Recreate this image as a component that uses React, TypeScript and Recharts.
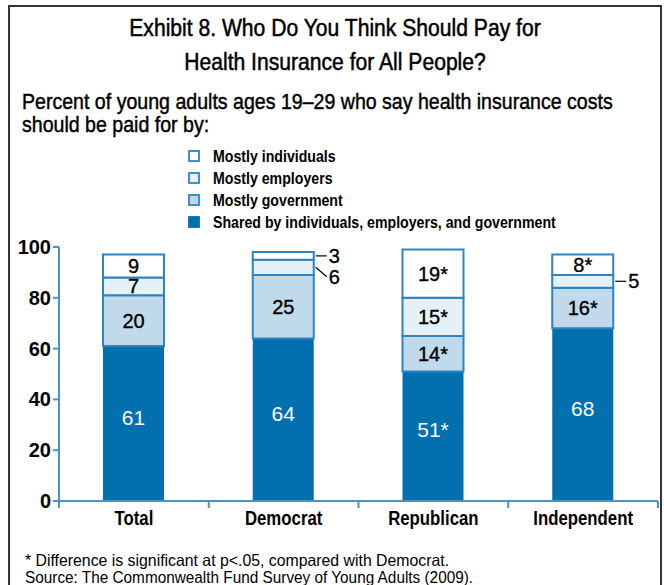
import React from "react";
import { BarChart, Bar, XAxis, YAxis, LabelList, Legend } from "recharts";

const categories = ["Total", "Democrat", "Republican", "Independent"];
const sharedVals = [61, 64, 51, 68];
const governmentVals = [20, 25, 14, 16];
const employersVals = [7, 6, 15, 5];
const individualsVals = [9, 3, 19, 8];
const sharedSig = [false, false, true, false];
const governmentSig = [false, false, true, true];
const employersSig = [false, false, true, false];
const individualsSig = [false, false, true, true];
const yTicks = [0, 20, 40, 60, 80, 100];

const titleLines = ["Exhibit 8. Who Do You Think Should Pay for", "Health Insurance for All People?"];
const subtitleLines = ["Percent of young adults ages 19–29 who say health insurance costs", "should be paid for by:"];
const footLines = [
  "* Difference is significant at p<.05, compared with Democrat.",
  "Source: The Commonwealth Fund Survey of Young Adults (2009).",
];

const seriesNames: Record<string, string> = {
  shared: "Shared by individuals, employers, and government",
  government: "Mostly government",
  employers: "Mostly employers",
  individuals: "Mostly individuals",
};

const data = categories.map((c, i) => ({
  name: c,
  shared: sharedVals[i],
  government: governmentVals[i],
  employers: employersVals[i],
  individuals: individualsVals[i],
}));

const sigMap: Record<string, boolean[]> = {
  shared: sharedSig,
  government: governmentSig,
  employers: employersSig,
  individuals: individualsSig,
};
const order = ["shared", "government", "employers", "individuals"];

const DARK = "#0270AE";
const MID = "#C0DAEB";
const LIGHT = "#E5F0F7";
const EDGE = "#2E84C2";
const AXIS = "#4A94CC";
const FONT = "'Liberation Sans', Arial, sans-serif";

const W = 664;
const H = 585;
const M = { top: 247, right: 6, bottom: 54, left: 9 };
const YW = 50;
const XH = 30;
const PLOT_W = W - M.left - M.right - YW;
const BAND = PLOT_W / categories.length;

const CText = ({ x, y, s = 1, anchor = "start", children, ...rest }: any) => (
  <text transform={`translate(${x},${y}) scale(${s},1)`} textAnchor={anchor} fontFamily={FONT} {...rest}>
    {children}
  </text>
);

const makeLabel = (key: string) => (props: any) => {
  const { x, y, width, height, index, value } = props;
  const text = `${value}${sigMap[key][index] ? "*" : ""}`;
  const cx = x + width / 2;
  const cy = y + height / 2;
  const isDark = key === "shared";
  const heavy = isDark ? {} : { stroke: "#000", strokeWidth: 0.35 };
  if (value < 7) {
    const idx = order.indexOf(key);
    const nextKey = order[idx + 1];
    const nextSmall = nextKey ? (data[index] as any)[nextKey] < 7 : false;
    const dy = nextSmall ? 9.5 : 0;
    const x0 = x + width + 2;
    return (
      <g>
        <line x1={x0} y1={cy} x2={x0 + 11} y2={cy + dy} stroke="#000" strokeWidth={1.2} />
        <CText x={x0 + 13} y={cy + dy + 7} fontSize={20} fill="#000" {...heavy}>
          {text}
        </CText>
      </g>
    );
  }
  return (
    <CText
      x={cx}
      y={(isDark ? cy - 6 : cy) + 7}
      anchor="middle"
      fontSize={isDark ? 21 : 20}
      fill={isDark ? "#fff" : "#000"}
      {...heavy}
    >
      {text}
    </CText>
  );
};

const XTick = (props: any) => {
  const { x, y, payload, index } = props;
  const axisY = y - 8;
  return (
    <g>
      {index === 0 && (
        <line x1={x - BAND / 2} y1={axisY} x2={x - BAND / 2} y2={axisY + 7} stroke={AXIS} strokeWidth={2} />
      )}
      <line x1={x + BAND / 2} y1={axisY} x2={x + BAND / 2} y2={axisY + 7} stroke={AXIS} strokeWidth={2} />
      <CText x={x} y={y + 16} s={0.84} anchor="middle" fontSize={20} fontWeight="bold" fill="#000">
        {payload.value}
      </CText>
    </g>
  );
};

const YTick = (props: any) => {
  const { x, y, payload } = props;
  return (
    <CText x={x} y={y + 7} anchor="end" fontSize={20} fontWeight="bold" fill="#000">
      {payload.value}
    </CText>
  );
};

const legendItems = [
  { key: "individuals", fill: "#fff", stroke: EDGE },
  { key: "employers", fill: LIGHT, stroke: EDGE },
  { key: "government", fill: MID, stroke: EDGE },
  { key: "shared", fill: DARK, stroke: DARK },
];

const LegendContent = () => (
  <svg width={420} height={90}>
    {legendItems.map((it, i) => {
      const cy = 11 + i * 22;
      return (
        <g key={it.key}>
          <rect x={4} y={cy - 5} width={10} height={10} fill={it.fill} stroke={it.stroke} strokeWidth={1.8} />
          <CText x={28} y={cy + 5.5} s={0.885} fontSize={16} fontWeight="bold" fill="#000">
            {seriesNames[it.key]}
          </CText>
        </g>
      );
    })}
  </svg>
);

export default function App() {
  return (
    <div style={{ position: "absolute", left: 0, top: 0, width: W, height: H, overflow: "hidden", background: "#fff" }}>
      <div style={{ position: "absolute", left: 0, top: 0 }}>
        <BarChart width={W} height={H} data={data} margin={M} barSize={61}>
          <XAxis
            dataKey="name"
            height={XH}
            axisLine={{ stroke: AXIS, strokeWidth: 2 }}
            tickLine={false}
            tick={<XTick />}
            interval={0}
          />
          <YAxis
            width={YW}
            domain={[0, 100]}
            ticks={yTicks}
            axisLine={{ stroke: AXIS, strokeWidth: 2 }}
            tickLine={{ stroke: AXIS, strokeWidth: 2 }}
            tickSize={6}
            tick={<YTick />}
          />
          <Legend
            layout="horizontal"
            verticalAlign="middle"
            align="center"
            content={<LegendContent />}
            wrapperStyle={{ left: 185, top: 145, width: 420, height: 90 }}
          />
          <Bar dataKey="shared" stackId="a" fill={DARK} isAnimationActive={false} name={seriesNames.shared}>
            <LabelList dataKey="shared" content={makeLabel("shared")} />
          </Bar>
          <Bar
            dataKey="government"
            stackId="a"
            fill={MID}
            stroke={EDGE}
            strokeWidth={2}
            isAnimationActive={false}
            name={seriesNames.government}
          >
            <LabelList dataKey="government" content={makeLabel("government")} />
          </Bar>
          <Bar
            dataKey="employers"
            stackId="a"
            fill={LIGHT}
            stroke={EDGE}
            strokeWidth={2}
            isAnimationActive={false}
            name={seriesNames.employers}
          >
            <LabelList dataKey="employers" content={makeLabel("employers")} />
          </Bar>
          <Bar
            dataKey="individuals"
            stackId="a"
            fill="#fff"
            stroke={EDGE}
            strokeWidth={2}
            isAnimationActive={false}
            name={seriesNames.individuals}
          >
            <LabelList dataKey="individuals" content={makeLabel("individuals")} />
          </Bar>
        </BarChart>
      </div>
      <svg
        width={W}
        height={H}
        style={{ position: "absolute", left: 0, top: 0, pointerEvents: "none" }}
      >
        <rect x={9} y={6} width={652} height={620} fill="none" stroke="#333" strokeWidth={2} />
        <CText x={335} y={36} s={0.88} anchor="middle" fontSize={24} fill="#000" stroke="#000" strokeWidth={0.5}>
          {titleLines[0]}
        </CText>
        <CText x={335} y={70} s={0.88} anchor="middle" fontSize={24} fill="#000" stroke="#000" strokeWidth={0.5}>
          {titleLines[1]}
        </CText>
        <CText x={22} y={109} s={0.89} fontSize={22} fill="#000" stroke="#000" strokeWidth={0.45}>
          {subtitleLines[0]}
        </CText>
        <CText x={22} y={132} s={0.89} fontSize={22} fill="#000" stroke="#000" strokeWidth={0.45}>
          {subtitleLines[1]}
        </CText>
        <CText x={25} y={566} s={0.96} fontSize={16.5} fill="#000">
          {footLines[0]}
        </CText>
        <CText x={25} y={583} s={0.93} fontSize={16.5} fill="#000">
          {footLines[1]}
        </CText>
      </svg>
    </div>
  );
}
